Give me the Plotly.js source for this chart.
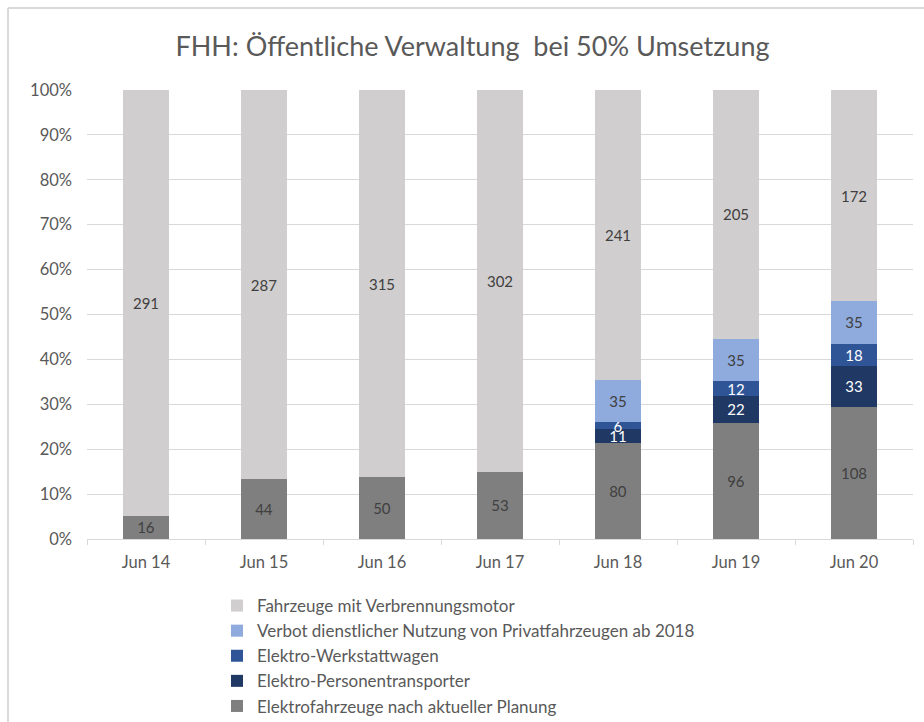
<!DOCTYPE html>
<html>
<head>
<meta charset="utf-8">
<script src="https://cdn.plot.ly/plotly-3.0.1.min.js"></script>
<style>
html,body{margin:0;padding:0;background:#fff;}
#chart{width:924px;height:722px;}
</style>
</head>
<body>
<div id="chart"></div>
<script>
const categories = ["Jun 14","Jun 15","Jun 16","Jun 17","Jun 18","Jun 19","Jun 20"];
const elektroPlanung = [16,44,50,53,80,96,108];
const elektroPersonen = [null,null,null,null,11,22,33];
const elektroWerkstatt = [null,null,null,null,6,12,18];
const verbotPrivat = [null,null,null,null,35,35,35];
const verbrenner = [291,287,315,302,241,205,172];

const seriesNames = [
  "Elektrofahrzeuge nach aktueller Planung",
  "Elektro-Personentransporter",
  "Elektro-Werkstattwagen",
  "Verbot dienstlicher Nutzung von Privatfahrzeugen ab 2018",
  "Fahrzeuge mit Verbrennungsmotor"
];
const seriesValues = [elektroPlanung, elektroPersonen, elektroWerkstatt, verbotPrivat, verbrenner];
const seriesColors = ["#7f7f7f","#1f3864","#2f5597","#8faadc","#d0cece"];
const textColors = ["#404040","#ffffff","#ffffff","#404040","#404040"];

const FONT = "Lato, 'Open Sans', sans-serif";

const traces = seriesNames.map((name, i) => ({
  type: "bar",
  name: name,
  legendgroup: "g" + i,
  legendrank: 1000 - i,
  x: categories,
  y: seriesValues[i],
  marker: {color: seriesColors[i], line: {width: 0}},
  text: seriesValues[i].map(v => v === null ? "" : String(v)),
  textposition: "inside",
  insidetextanchor: "middle",
  textangle: 0,
  constraintext: "none",
  textfont: {family: FONT, size: 15, color: textColors[i]},
  hoverinfo: "skip"
}));

const W = 924, H = 722;
const L = 87, R = 11, T = 90, B = 183;
const pw = W - L - R, ph = H - T - B;
const px = x => (x - L) / pw;
const py = y => (H - B - y) / ph;

const layout = {
  width: W, height: H,
  margin: {l: L, r: R, t: T, b: B, pad: 0, autoexpand: false},
  paper_bgcolor: "#ffffff",
  plot_bgcolor: "#ffffff",
  barmode: "stack",
  barnorm: "percent",
  bargap: 0.61,
  showlegend: true,
  font: {family: FONT, color: "#595959"},
  title: {
    text: "FHH: Öffentliche Verwaltung  bei 50% Umsetzung",
    font: {family: FONT, size: 27, color: "#595959"},
    x: px(472.5), xref: "paper", xanchor: "center",
    y: 1 - 47 / H, yanchor: "middle"
  },
  xaxis: {
    type: "category",
    showgrid: false,
    showline: true,
    linecolor: "#d9d9d9",
    linewidth: 1,
    ticks: "outside",
    tickson: "boundaries",
    ticklen: 5,
    tickcolor: "#d9d9d9",
    tickfont: {family: FONT, size: 16.5, color: "#595959"},
    ticklabelstandoff: 8,
    fixedrange: true
  },
  yaxis: {
    range: [0, 100],
    dtick: 10,
    ticksuffix: "%",
    showgrid: true,
    gridcolor: "#d9d9d9",
    gridwidth: 1,
    zeroline: false,
    showline: false,
    ticks: "",
    tickfont: {family: FONT, size: 16.5, color: "#595959"},
    ticklabelstandoff: 14,
    fixedrange: true
  },
  legend: {
    orientation: "v",
    traceorder: "grouped",
    tracegroupgap: 0,
    x: px(217), xanchor: "left",
    y: py(588), yanchor: "top",
    font: {family: FONT, size: 17, color: "#595959"},
    itemwidth: 30,
    bgcolor: "rgba(0,0,0,0)"
  },
  shapes: [
    {type: "line", xref: "paper", yref: "paper", x0: px(8), x1: px(940), y0: py(8), y1: py(8), line: {color: "#d9d9d9", width: 2}},
    {type: "line", xref: "paper", yref: "paper", x0: px(8), x1: px(8), y0: py(8), y1: py(740), line: {color: "#d9d9d9", width: 2}}
  ]
};

Plotly.newPlot("chart", traces, layout, {displayModeBar: false, staticPlot: true});
</script>
</body>
</html>
